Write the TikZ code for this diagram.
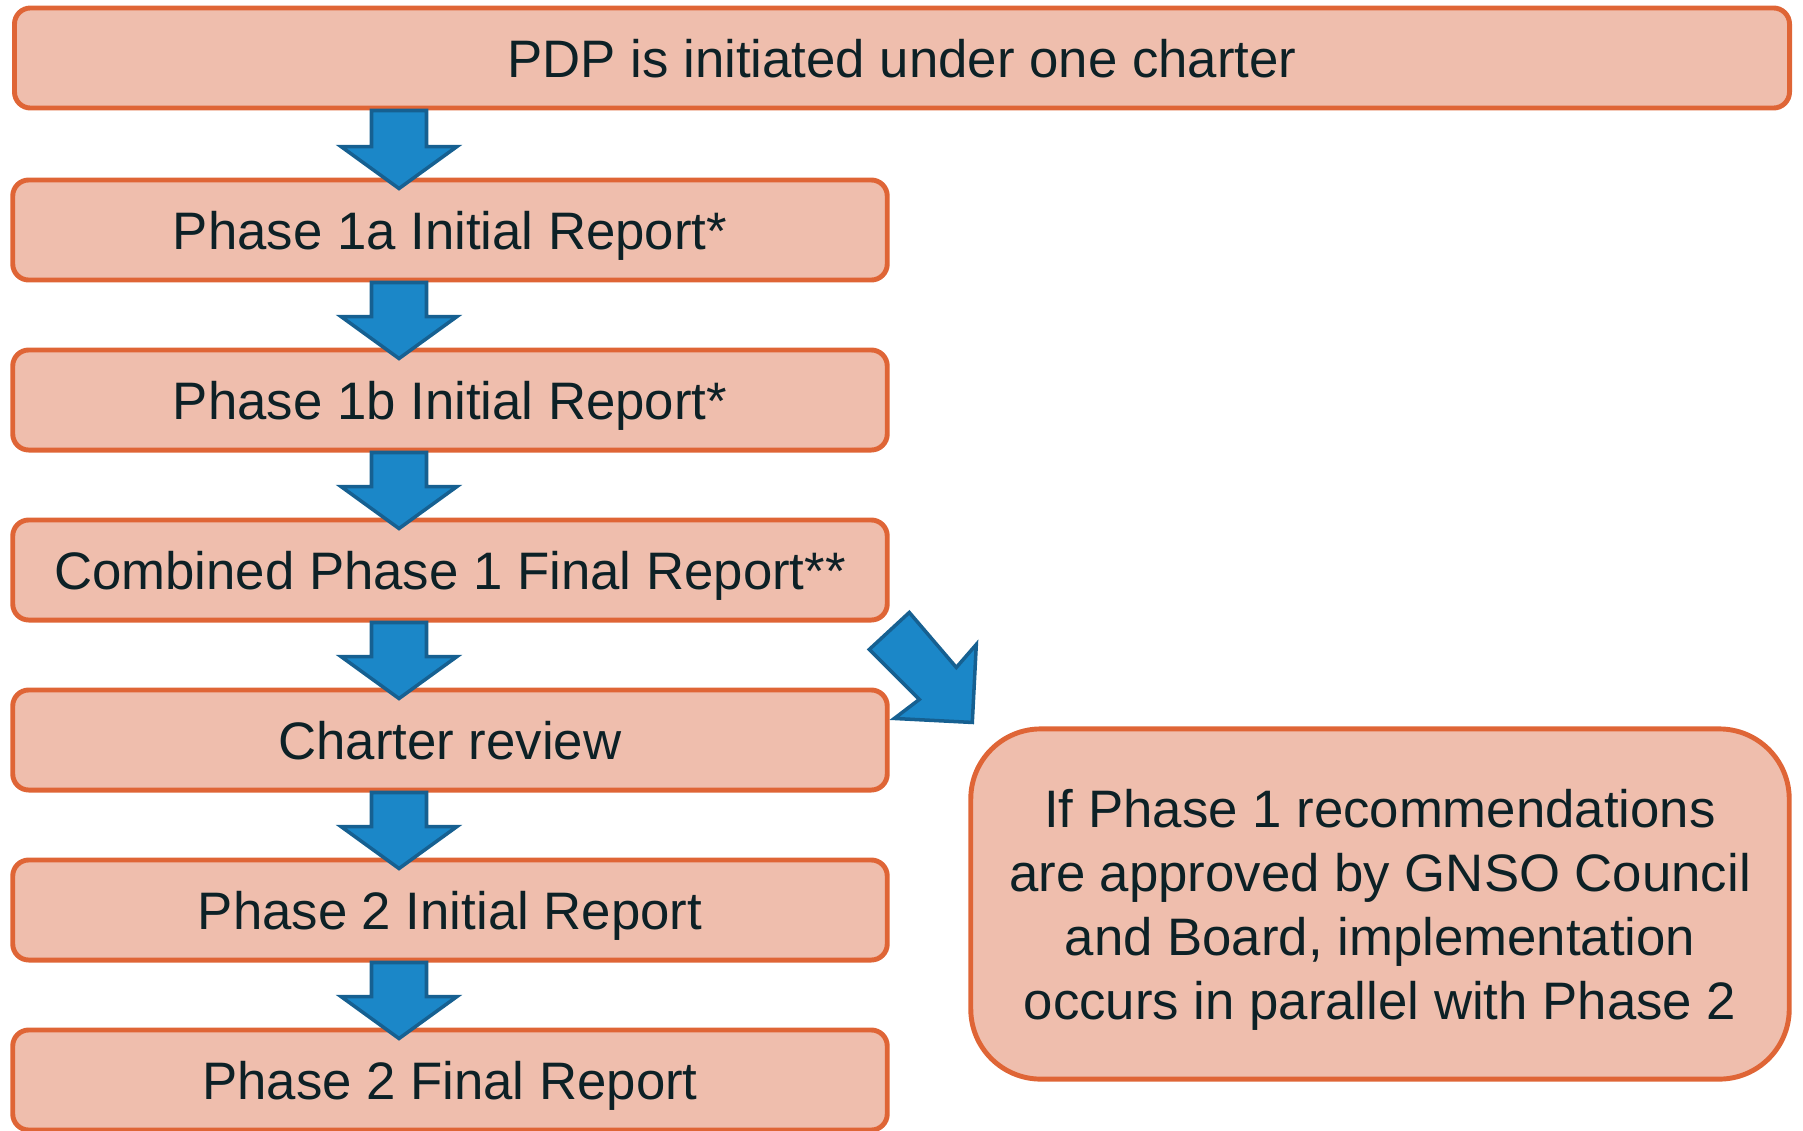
\documentclass[tikz,border=0pt]{standalone}
\usepackage{fontspec}
\setmainfont{Liberation Sans}
\definecolor{boxedge}{RGB}{223,101,54}
\definecolor{boxfill}{RGB}{239,190,173}
\definecolor{arrowblue}{RGB}{27,135,200}
\definecolor{arrowedge}{RGB}{22,96,145}
\definecolor{inktext}{RGB}{13,33,38}
\usetikzlibrary{calc,positioning}

\begin{document}
\begin{tikzpicture}[x=0.01cm, y=-0.01cm,
		pbox/.style={draw=boxedge, line width=1.4pt, rounded corners=0.16cm,
			fill=boxfill, minimum width=8.74cm, minimum height=1.0cm,
			text height=10.9pt, text depth=0pt,
			align=center, text=inktext, font=\fontsize{15}{18.2}\selectfont},
		barrow/.style={draw=arrowedge, line width=1pt, fill=arrowblue}
	]
		\useasboundingbox (0,0) rectangle (1803,1130);
		\clip (0,0) rectangle (1803,1130);
		\node[pbox, minimum width=17.74cm] (top) at (902,58) {PDP is initiated under one charter};
		\node[pbox] (p1a) at (450,230) {Phase 1a Initial Report*};
		\node[pbox] (p1b) at (450,400) {Phase 1b Initial Report*};
		\node[pbox] (p1fin) at (450,570) {Combined Phase 1 Final Report**};
		\node[pbox] (charter) at (450,740) {Charter review};
		\node[pbox] (p2ini) at (450,910) {Phase 2 Initial Report};
		\node[pbox] (p2fin) at (450,1080) {Phase 2 Final Report};
		\node[pbox, text height=, minimum width=8.18cm, minimum height=3.5cm, rounded corners=0.7cm]
			(side) at (1380,904) {If Phase 1 recommendations\\are approved by GNSO Council\\and Board, implementation\\occurs in parallel with Phase 2};
		% down arrows between the stacked boxes
		\foreach \a/\b in {top/p1a, p1a/p1b, p1b/p1fin, p1fin/charter, charter/p2ini, p2ini/p2fin}{
			\path ($(\b.north)+(-51,11)$) coordinate (tip) (tip |- \a.south) coordinate (tail);
			\draw[barrow] ($(tail)+(-27.5,0)$) -- ($(tail)+(27.5,0)$) -- ($(tip)+(27.5,-42)$)
				-- ($(tip)+(58,-42)$) -- (tip) -- ($(tip)+(-58,-42)$) -- ($(tip)+(-27.5,-42)$) -- cycle;
		}
		% side arrow
		\draw[barrow, shift={(side.north west)}] (-59,-114) -- (-12,-59) -- (8,-82) -- (4,-4)
			-- (-74,-8) -- (-49,-27) -- (-99,-77) -- cycle;
	\end{tikzpicture}
\end{document}
